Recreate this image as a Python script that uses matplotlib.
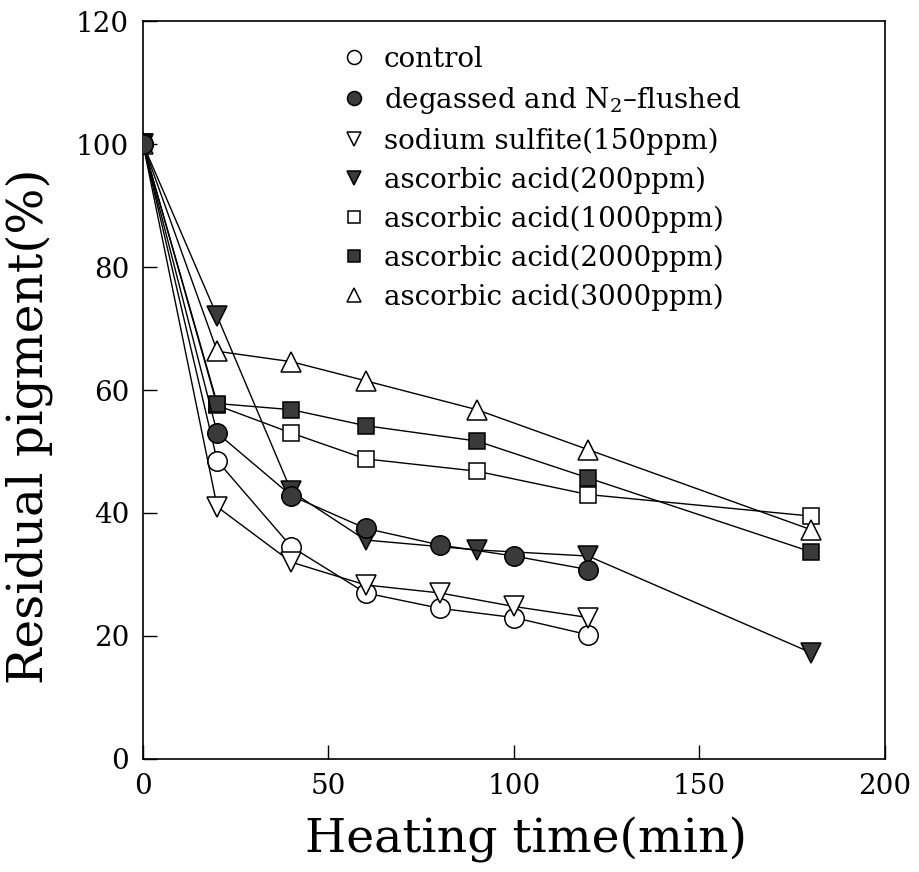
"""plot.py

Residual pigment (%) vs heating time (min) for several treatments.
Saves the figure as out.png.
"""

import matplotlib
matplotlib.use("Agg")
import matplotlib.pyplot as plt

#####################################
# Data
#####################################

time_a = [0, 20, 40, 60, 80, 100, 120]
time_b = [0, 20, 40, 60, 90, 120, 180]

control = [100, 48.5, 34.5, 27.0, 24.5, 23.0, 20.2]
degassed = [100, 53.0, 42.8, 37.5, 34.8, 33.0, 30.8]
sulfite = [100, 41.0, 32.0, 28.3, 27.0, 24.8, 23.0]
asc_200 = [100, 72.0, 43.5, 35.6, 34.0, 33.0, 17.3]
asc_1000 = [100, 57.5, 53.0, 48.8, 46.8, 43.0, 39.5]
asc_2000 = [100, 57.8, 56.8, 54.2, 51.7, 45.7, 33.7]
asc_3000 = [100, 66.3, 64.6, 61.5, 56.8, 50.3, 37.3]

labels = [
    "control",
    "degassed and N$_2$\u2013flushed",
    "sodium sulfite(150ppm)",
    "ascorbic acid(200ppm)",
    "ascorbic acid(1000ppm)",
    "ascorbic acid(2000ppm)",
    "ascorbic acid(3000ppm)",
]

#####################################
# Styling
#####################################

plt.rcParams["font.family"] = "DejaVu Serif"
plt.rcParams["mathtext.fontset"] = "dejavuserif"

DARK = "#3a3a3a"
# (x, y, marker, face colour, marker size, zorder)
series = [
    (time_a, control, "o", "white", 14, 2),
    (time_a, degassed, "o", DARK, 14, 3.5),
    (time_a, sulfite, "v", "white", 14, 2),
    (time_b, asc_200, "v", DARK, 14, 3),
    (time_b, asc_1000, "s", "white", 11.5, 2),
    (time_b, asc_2000, "s", DARK, 11.5, 3),
    (time_b, asc_3000, "^", "white", 14, 2),
]

#####################################
# Plot
#####################################

fig = plt.figure(figsize=(9.19, 8.72), dpi=100)
ax = fig.add_axes([0.1556, 0.1296, 0.8074, 0.8463])

for (t, y, m, face, ms, z), lab in zip(series, labels):
    ax.plot(t, y, color="black", lw=1.0, marker=m, markersize=ms,
            markerfacecolor=face, markeredgecolor="black",
            markeredgewidth=1.1, label=lab, zorder=z)

ax.set_xlim(0, 200)
ax.set_ylim(0, 120)
ax.set_xticks([0, 50, 100, 150, 200])
ax.set_yticks([0, 20, 40, 60, 80, 100, 120])
ax.tick_params(direction="in", length=10, width=1.0, labelsize=20, pad=10)
for s in ax.spines.values():
    s.set_linewidth(1.2)

ax.set_xlabel("Heating time(min)", fontsize=34)
ax.set_ylabel("Residual pigment(%)", fontsize=35)
ax.xaxis.set_label_coords(0.516, -0.078)
ax.yaxis.set_label_coords(-0.121, 0.451)

leg = ax.legend(loc="upper left", bbox_to_anchor=(0.265, 0.966),
                frameon=False, fontsize=20, markerscale=0.72,
                handlelength=1.0, handletextpad=0.6, labelspacing=0.42,
                borderpad=0, borderaxespad=0)
for h in leg.legend_handles:
    h.set_linestyle("None")

fig.savefig("out.png", dpi=100)
